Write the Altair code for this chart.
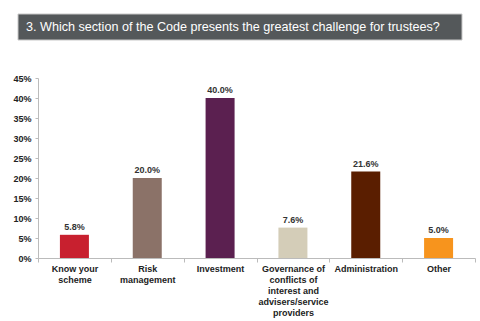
import altair as alt
import pandas as pd

categories = [
    "Know your\nscheme",
    "Risk\nmanagement",
    "Investment",
    "Governance of\nconflicts of\ninterest and\nadvisers/service\nproviders",
    "Administration",
    "Other",
]
values = [5.8, 20.0, 40.0, 7.6, 21.6, 5.0]
colors = ["#C8202F", "#8B7268", "#5B2050", "#D4CDB8", "#5A1E00", "#F7941D"]
y_ticks = [0, 5, 10, 15, 20, 25, 30, 35, 40, 45]
title_text = "3. Which section of the Code presents the greatest challenge for trustees?"

df = pd.DataFrame({"cat": categories, "val": values, "col": colors})
df["lab"] = df["val"].map(lambda v: f"{v:.1f}%")

FONT = "Liberation Sans"

x_enc = alt.X(
    "cat:N", sort=categories,
    scale=alt.Scale(paddingInner=0, paddingOuter=0),
    axis=alt.Axis(
        title=None, labelAngle=0,
        labelExpr="datum.value ? split(datum.value, '\\n') : ''",
        labelFont=FONT, labelFontSize=9, labelFontWeight="bold", labelColor="#222222",
        labelLineHeight=11, labelPadding=2, labelBaseline="top",
        tickBand="extent", tickSize=4, tickColor="#BBBBBB",
        domainColor="#BBBBBB", grid=False,
    ),
)
y_enc = alt.Y(
    "val:Q",
    scale=alt.Scale(domain=[0, 45], nice=False),
    axis=alt.Axis(
        title=None, values=y_ticks, labelExpr="datum.value + '%'",
        labelFont=FONT, labelFontSize=9, labelFontWeight="bold", labelColor="#222222",
        labelPadding=4, tickSize=3, tickColor="#BBBBBB", domainColor="#BBBBBB",
        grid=False,
    ),
)

base = alt.Chart(df)
bars = base.mark_bar(size=29).encode(
    x=x_enc, y=y_enc, color=alt.Color("col:N", scale=None)
)
texts = base.mark_text(
    dy=-8, font=FONT, fontSize=9, fontWeight="bold", color="#333333"
).encode(x=x_enc, y=y_enc, text="lab:N")

banner = alt.Chart(pd.DataFrame({"t": [title_text]})).mark_rect(
    color="#54585A", stroke="#C8C8C8", strokeWidth=1
).encode(
    x=alt.value(-20), x2=alt.value(424), y=alt.value(-64), y2=alt.value(-38)
)
banner_text = alt.Chart(pd.DataFrame({"t": [title_text]})).mark_text(
    align="left", baseline="middle", font=FONT, fontSize=12.6, color="white"
).encode(x=alt.value(-12), y=alt.value(-51), text="t:N")

chart = alt.layer(bars, texts, banner, banner_text).properties(
    width=437, height=180,
    autosize=alt.AutoSizeParams(type="none"),
    padding={"left": 38, "top": 78, "right": 5, "bottom": 63},
    background="white",
).configure_view(stroke=None)

chart.save("out.html", embed_options={"renderer": "svg", "actions": False})
